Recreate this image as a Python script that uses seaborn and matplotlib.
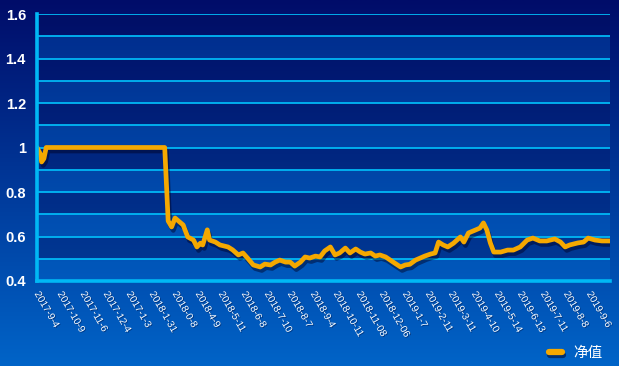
import numpy as np
import pandas as pd
import matplotlib
matplotlib.use("Agg")
import matplotlib.pyplot as plt
import matplotlib.patheffects as pe
from matplotlib.lines import Line2D
import seaborn as sns

# ---- data ----
day_index = [0, 3, 4, 6, 8, 111, 114, 117, 120, 124, 127, 131, 136, 139, 142, 144, 148,
             150, 155, 159, 166, 170, 175, 179, 183, 188, 194, 198, 203, 207, 211, 216,
             220, 224, 229, 233, 237, 242, 246, 250, 255, 259, 263, 268, 272, 277, 281,
             285, 290, 294, 298, 303, 307, 311, 316, 320, 324, 329, 333, 337, 342, 346,
             349, 353, 357, 362, 368, 371, 375, 381, 385, 388, 391, 394, 397, 403, 409,
             414, 420, 426, 431, 437, 443, 450, 455, 459, 463, 470, 475, 479, 485, 491, 498]
net_value = [1.0, 0.97, 0.935, 0.95, 1.0, 1.0, 0.67, 0.643, 0.683, 0.665, 0.652, 0.598,
             0.584, 0.553, 0.57, 0.562, 0.63, 0.584, 0.575, 0.562, 0.553, 0.54, 0.517,
             0.526, 0.503, 0.472, 0.463, 0.476, 0.472, 0.485, 0.494, 0.485, 0.485, 0.467,
             0.485, 0.508, 0.503, 0.512, 0.508, 0.535, 0.553, 0.517, 0.526, 0.548, 0.526,
             0.544, 0.53, 0.521, 0.526, 0.512, 0.517, 0.508, 0.494, 0.48, 0.463, 0.472,
             0.475, 0.494, 0.503, 0.512, 0.521, 0.526, 0.575, 0.562, 0.553, 0.57, 0.598,
             0.575, 0.616, 0.629, 0.638, 0.661, 0.629, 0.571, 0.53, 0.53, 0.539, 0.539,
             0.553, 0.584, 0.593, 0.58, 0.58, 0.589, 0.575, 0.553, 0.562, 0.571, 0.575,
             0.593, 0.584, 0.58, 0.58]
tick_labels = ["2017-9-4", "2017-10-9", "2017-11-6", "2017-12-4", "2017-1-3", "2018-1-31",
               "2018-0-8", "2018-4-9", "2018-5-11", "2018-6-8", "2018-7-10", "2018-8-7",
               "2018-9-4", "2018-10-11", "2018-11-08", "2018-12-06", "2019-1-7", "2019-2-11",
               "2019-3-11", "2019-4-10", "2019-5-14", "2019-6-13", "2019-7-11", "2019-8-8",
               "2019-9-6"]
tick_step = 20
series_name = "净值"

df = pd.DataFrame({"day": day_index, "value": net_value})

sns.set_style("white")
plt.rcParams["font.family"] = ["Liberation Sans", "Noto Sans CJK SC", "DejaVu Sans"]

W, H = 619, 366
fig = plt.figure(figsize=(W / 100, H / 100), dpi=100)

# background gradient
bg = fig.add_axes([0, 0, 1, 1], zorder=-10)
grad = np.linspace(0, 1, 256).reshape(-1, 1)
top = np.array([0, 12, 105]) / 255
bot = np.array([0, 100, 200]) / 255
img = top[None, None, :] * (1 - grad[..., None]) + bot[None, None, :] * grad[..., None]
bg.imshow(img, aspect="auto", extent=[0, 1, 0, 1])
bg.set_axis_off()

cyan = "#00b8f5"
ax = fig.add_axes([37 / W, 85 / H, (610 - 37) / W, (352 - 85) / H])
ax.set_facecolor("none")
ax.set_xlim(0, 498)
ax.set_ylim(0.4, 1.6)

# alternating split areas
edges = np.round(np.arange(0.4, 1.6001, 0.1), 2)
for i in range(len(edges) - 1):
    if i % 2 == 0:
        ax.axhspan(edges[i], edges[i + 1], color=(0.0, 0.45, 0.85), alpha=0.28, lw=0, zorder=0)
    else:
        ax.axhspan(edges[i], edges[i + 1], color=(0.0, 0.05, 0.35), alpha=0.30, lw=0, zorder=0)
for e in edges[1:]:
    ax.axhline(e, color=cyan, lw=1.3, zorder=1)

sns.lineplot(data=df, x="day", y="value", ax=ax, color="#f5a800", lw=3.4, zorder=3,
             solid_joinstyle="round", solid_capstyle="round",
             path_effects=[pe.SimpleLineShadow(offset=(1.2, -2.5), shadow_color="#000020", alpha=0.45),
                           pe.Normal()])

for s in ["top", "right"]:
    ax.spines[s].set_visible(False)
for s in ["left", "bottom"]:
    ax.spines[s].set_color(cyan)
    ax.spines[s].set_linewidth(2.6)
    ax.spines[s].set_zorder(4)

ax.set_yticks(np.round(np.arange(0.4, 1.61, 0.2), 1))
ax.set_yticklabels(["0.4", "0.6", "0.8", "1", "1.2", "1.4", "1.6"])
ax.tick_params(axis="y", colors=cyan, length=5, width=2.4, pad=3, labelcolor="white",
               labelsize=10.5)
for t in ax.get_yticklabels():
    t.set_fontweight("bold")

xt = np.arange(0, tick_step * len(tick_labels), tick_step)
ax.set_xticks(xt)
ax.set_xticklabels(tick_labels, rotation=-60, ha="left", va="center", rotation_mode="anchor")
ax.tick_params(axis="x", colors=cyan, length=5, width=1.8, pad=3, labelcolor="white",
               labelsize=7.2)
for t in ax.get_xticklabels():
    t.set_path_effects([pe.withSimplePatchShadow(offset=(0.6, -0.6), shadow_rgbFace="#001040", alpha=0.5)])
ax.set_xlabel("")
ax.set_ylabel("")
ax.grid(False)
if ax.get_legend():
    ax.get_legend().remove()

handle = Line2D([], [], color="#f5a800", lw=4.5, solid_capstyle="round",
                path_effects=[pe.SimpleLineShadow(offset=(1, -2), shadow_color="#000020", alpha=0.5),
                              pe.Normal()])
leg = fig.legend([handle], [series_name], loc="center", bbox_to_anchor=(0.93, 0.035),
                 frameon=False, handlelength=0.9, handletextpad=0.8,
                 prop={"family": ["Noto Sans CJK SC"], "size": 10.5})
for t in leg.get_texts():
    t.set_color("white")

fig.savefig("out.png", dpi=100)
